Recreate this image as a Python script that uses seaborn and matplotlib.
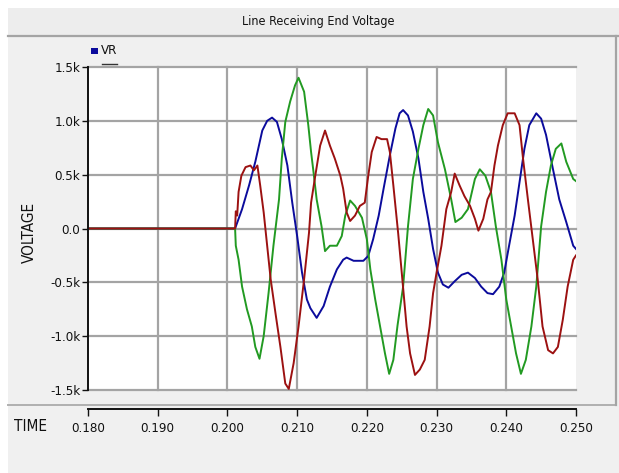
import matplotlib
matplotlib.use("Agg")
import os
import matplotlib.pyplot as plt
from matplotlib import font_manager as fm
from matplotlib.patches import Rectangle
from matplotlib.lines import Line2D
import seaborn as sns
import pandas as pd

# ---- data: receiving-end voltage, three phases (time in s, voltage in V) ----
t_a = [0.180, 0.2011, 0.2021, 0.2031, 0.2040, 0.2050, 0.2057, 0.2064, 0.2071, 0.2078,
       0.2086, 0.2093, 0.2100, 0.2107, 0.2114, 0.2119, 0.2128, 0.2138, 0.2147, 0.2157,
       0.2166, 0.2171, 0.2181, 0.2195, 0.2202, 0.2209, 0.2217, 0.2224, 0.2233, 0.2241,
       0.2247, 0.2252, 0.2259, 0.2266, 0.2274, 0.2281, 0.2288, 0.2295, 0.2302, 0.2309,
       0.2317, 0.2326, 0.2336, 0.2345, 0.2355, 0.2364, 0.2373, 0.2381, 0.2390, 0.2397,
       0.2404, 0.2412, 0.2419, 0.2426, 0.2433, 0.2443, 0.2450, 0.2457, 0.2467, 0.2476,
       0.2486, 0.2496, 0.2500]
v_a = [0, 0, 180, 400, 620, 910, 1000, 1030, 990, 830,
       585, 240, -70, -410, -660, -740, -830, -720, -540, -380,
       -290, -270, -300, -300, -255, -100, 120, 370, 680, 930,
       1070, 1100, 1050, 900, 650, 340, 90, -190, -410, -520,
       -550, -490, -430, -410, -460, -540, -600, -610, -540, -410,
       -160, 120, 430, 740, 960, 1070, 1020, 870, 550, 270,
       60, -160, -190]

t_b = [0.180, 0.2011, 0.2012, 0.2016, 0.2021, 0.2028, 0.2035, 0.2040, 0.2046, 0.2052,
       0.2059, 0.2066, 0.2074, 0.2078, 0.2083, 0.2090, 0.2097, 0.2102, 0.2110, 0.2116,
       0.2120, 0.2123, 0.2128, 0.2135, 0.2140, 0.2147, 0.2157, 0.2164, 0.2169, 0.2176,
       0.2183, 0.2193, 0.2200, 0.2205, 0.2212, 0.2219, 0.2226, 0.2232, 0.2238, 0.2244,
       0.2252, 0.2259, 0.2266, 0.2274, 0.2281, 0.2288, 0.2295, 0.2302, 0.2312, 0.2321,
       0.2327, 0.2336, 0.2345, 0.2355, 0.2362, 0.2370, 0.2378, 0.2385, 0.2393, 0.2400,
       0.2407, 0.2414, 0.2421, 0.2428, 0.2436, 0.2443, 0.2450, 0.2457, 0.2464, 0.2471,
       0.2479, 0.2486, 0.2496, 0.2500]
v_b = [0, 0, -160, -290, -540, -750, -910, -1100, -1210, -1000,
       -600, -160, 270, 650, 990, 1180, 1330, 1400, 1270, 960,
       710, 550, 270, 20, -210, -160, -160, -70, 120, 260,
       210, 100, -100, -380, -660, -910, -1160, -1350, -1220, -900,
       -540, 20, 460, 740, 960, 1110, 1050, 800, 550, 270,
       60, 100, 180, 460, 550, 490, 340, 20, -290, -660,
       -910, -1160, -1350, -1220, -910, -540, 20, 340, 585, 740,
       790, 620, 460, 440]

t_c = [0.180, 0.2011, 0.2012, 0.2014, 0.2016, 0.2020, 0.2026, 0.2033, 0.2038, 0.2043,
       0.2047, 0.2052, 0.2057, 0.2062, 0.2069, 0.2076, 0.2083, 0.2088, 0.2095, 0.2102,
       0.2110, 0.2117, 0.2120, 0.2126, 0.2133, 0.2140, 0.2147, 0.2154, 0.2162, 0.2166,
       0.2171, 0.2176, 0.2183, 0.2190, 0.2197, 0.2202, 0.2207, 0.2214, 0.2221, 0.2229,
       0.2233, 0.2238, 0.2245, 0.2252, 0.2257, 0.2262, 0.2269, 0.2276, 0.2283, 0.2290,
       0.2295, 0.2300, 0.2307, 0.2314, 0.2321, 0.2326, 0.2333, 0.2340, 0.2348, 0.2355,
       0.2360, 0.2367, 0.2373, 0.2378, 0.2383, 0.2388, 0.2395, 0.2402, 0.2412, 0.2419,
       0.2424, 0.2431, 0.2438, 0.2445, 0.2452, 0.2460, 0.2467, 0.2474, 0.2481, 0.2488,
       0.2496, 0.2500]
v_c = [0, 0, 160, 120, 340, 490, 570, 585, 540, 585,
       400, 150, -160, -470, -790, -1100, -1440, -1490, -1250, -910,
       -470, -40, 240, 490, 770, 910, 770, 650, 490, 370,
       150, 70, 120, 210, 240, 490, 710, 850, 830, 830,
       710, 400, -50, -550, -910, -1160, -1360, -1310, -1220, -910,
       -600, -410, -160, 180, 340, 510, 400, 300, 210, 90,
       -20, 90, 270, 340, 585, 770, 960, 1070, 1070, 960,
       650, 270, -100, -470, -910, -1130, -1160, -1100, -850, -540,
       -290, -250]

phases = ["VR a", "VR b", "VR c"]
phase_colors = {"VR a": "#0b0b9c", "VR b": "#229a22", "VR c": "#9c1111"}

x_ticks = [0.180, 0.190, 0.200, 0.210, 0.220, 0.230, 0.240, 0.250]
x_tick_labels = ["0.180", "0.190", "0.200", "0.210", "0.220", "0.230", "0.240", "0.250"]
y_ticks = [-1500, -1000, -500, 0, 500, 1000, 1500]
y_tick_labels = ["-1.5k", "-1.0k", "-0.5k", "0.0", "0.5k", "1.0k", "1.5k"]

title = "Line Receiving End Voltage"
legend_label = "VR"
x_label = "TIME"
y_label = "VOLTAGE"


# ---- fonts: prefer a narrow face if one is installed ----
def narrow_font_file():
    wanted = ["LiberationSansNarrow-Regular", "DejaVuSansCondensed.ttf",
              "ArialNarrow", "RobotoCondensed-Regular"]
    files = [f.fname for f in fm.fontManager.ttflist]
    files += fm.findSystemFonts()
    for key in wanted:
        for path in files:
            if key in os.path.basename(path):
                return path
    return None


NARROW = narrow_font_file()
SCALE = 1.0 if NARROW else 0.88


def fp(size):
    if NARROW:
        return fm.FontProperties(fname=NARROW, size=size)
    return fm.FontProperties(family="DejaVu Sans", size=size * SCALE)


W, H = 619, 473
fig = plt.figure(figsize=(W / 100, H / 100), dpi=100, facecolor="white")


def fx(px):
    return px / W


def fy(py):
    return 1 - py / H


# window chrome: grey background, title bar, panel borders
fig.patches.append(Rectangle((fx(8), 0), 1, fy(8), transform=fig.transFigure,
                             facecolor="#f0f0f0", edgecolor="none", zorder=-10))
fig.patches.append(Rectangle((fx(8), fy(36)), 1, fy(8) - fy(36), transform=fig.transFigure,
                             facecolor="#ededed", edgecolor="none", zorder=-9))
fig.lines.append(Line2D([fx(8), 1], [fy(36), fy(36)], transform=fig.transFigure,
                        color="#a4a4a4", lw=1.6, zorder=-8))
fig.lines.append(Line2D([fx(8), fx(616)], [fy(405), fy(405)], transform=fig.transFigure,
                        color="#b0b0b0", lw=1.4, zorder=-8))
fig.lines.append(Line2D([fx(616), fx(616)], [fy(36), fy(405)], transform=fig.transFigure,
                        color="#a4a4a4", lw=1.6, zorder=-8))

fig.text(fx(318), fy(21), title, ha="center", va="center", color="#111111",
         fontproperties=fp(9))

# ---- main plot ----
x0, x1, y0, y1 = 88, 576, 67, 390
ax = fig.add_axes([fx(x0), fy(y1), fx(x1 - x0), fy(y0) - fy(y1)])
ax.set_facecolor("white")

df = pd.concat([
    pd.DataFrame({"time": t_a, "voltage": v_a, "phase": phases[0]}),
    pd.DataFrame({"time": t_b, "voltage": v_b, "phase": phases[1]}),
    pd.DataFrame({"time": t_c, "voltage": v_c, "phase": phases[2]}),
], ignore_index=True)

sns.lineplot(data=df, x="time", y="voltage", hue="phase", hue_order=phases,
             palette=phase_colors, estimator=None, sort=False, legend=False,
             linewidth=1.4, ax=ax, zorder=3)

ax.set_xlim(0.180, 0.250)
ax.set_ylim(-1500, 1500)

# grid
grid_kw = dict(color="#a4a4a4", lw=1.6, zorder=1, clip_on=False)
for yv in y_ticks:
    ax.axhline(yv, **grid_kw)
for xv in x_ticks[1:-1]:
    ax.axvline(xv, **grid_kw)

for side in ["top", "right", "bottom"]:
    ax.spines[side].set_visible(False)
ax.spines["left"].set_color("#111111")
ax.spines["left"].set_linewidth(1.4)
ax.spines["left"].set_zorder(5)

ax.set_xticks([])
ax.set_yticks(y_ticks)
ax.set_yticklabels(y_tick_labels, color="#111111", fontproperties=fp(9.5))
ax.tick_params(axis="y", length=4, width=1.0, color="#111111", pad=1.5)
ax.set_xlabel("")
ax.set_ylabel("")

# legend entry
fig.patches.append(Rectangle((fx(91), fy(54)), fx(7), fy(48) - fy(54), transform=fig.transFigure,
                             facecolor="#0b0b9c", edgecolor="none"))
fig.text(fx(101), fy(51), legend_label, ha="left", va="center", color="#111111",
         fontproperties=fp(9.5))
fig.lines.append(Line2D([fx(102), fx(117)], [fy(64), fy(64)], transform=fig.transFigure,
                        color="#333333", lw=1.0))

fig.text(fx(29), fy(232), y_label, ha="center", va="center", rotation=90,
         color="#111111", fontproperties=fp(11))

# ---- time axis below the panel ----
axt = fig.add_axes([fx(x0), fy(409), fx(x1 - x0), 0.0001])
axt.set_facecolor("none")
for side in ["top", "right", "left"]:
    axt.spines[side].set_visible(False)
axt.spines["bottom"].set_color("#111111")
axt.spines["bottom"].set_linewidth(1.4)
axt.set_xlim(0.180, 0.250)
axt.set_yticks([])
axt.set_xticks(x_ticks)
axt.set_xticklabels(x_tick_labels, color="#111111", fontproperties=fp(9.5))
axt.tick_params(axis="x", direction="out", length=5, width=1.0, color="#111111", pad=4)

fig.text(fx(31), fy(426), x_label, ha="center", va="center", color="#111111",
         fontproperties=fp(11))

fig.savefig("out.png", dpi=100, facecolor=fig.get_facecolor())
